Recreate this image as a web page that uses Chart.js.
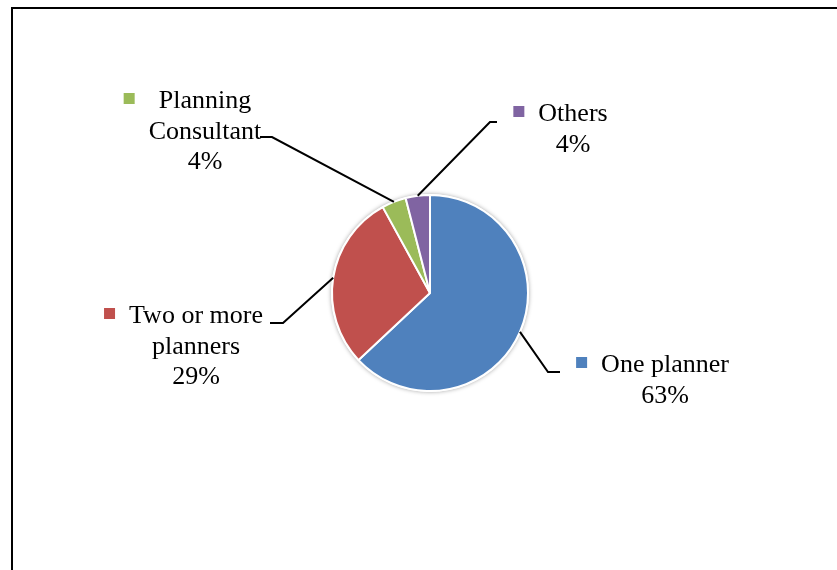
<!DOCTYPE html>
<html>
<head>
<meta charset="utf-8">
<script src="https://cdn.jsdelivr.net/npm/chart.js@4.4.1/dist/chart.umd.min.js"></script>
<style>
    html, body { margin: 0; padding: 0; background: #fff; overflow: hidden; }
    #wrap { position: relative; width: 837px; height: 570px; }
    #frame {
        position: absolute; left: 11px; top: 7px; width: 900px; height: 600px;
        border-left: 2px solid #000; border-top: 2px solid #000;
    }
    #grafico { position: absolute; left: 0; top: 0; }
</style>
</head>
<body>
<div id="wrap">
    <div id="frame"></div>
    <canvas id="grafico" width="837" height="570"></canvas>
</div>
<script>
const categorias = ['One planner', 'Two or more planners', 'Planning Consultant', 'Others'];
const valores = [63, 29, 4, 4];
const colores = ['#4F81BD', '#C0504D', '#9BBB59', '#8064A2'];

// how each category name wraps inside its label
const lineasEtiqueta = [
    ['One planner'],
    ['Two or more', 'planners'],
    ['Planning', 'Consultant'],
    ['Others']
];

// label placement, offsets from the pie centre (px)
// txt = text centre x / first baseline, codo = leader elbow, fin = leader end
const posEtiqueta = [
    { txt: [235, 79],   codo: [118, 79],   fin: [130, 79] },
    { txt: [-234, 30],  codo: [-147, 30],  fin: [-160, 30] },
    { txt: [-225, -185], codo: [-158, -156], fin: [-170, -156] },
    { txt: [143, -172], codo: [60, -171],  fin: [67, -171] }
];

const FUENTE = '26px "Liberation Serif", "Times New Roman", serif';
const INTERLINEA = 30.5;

// soft grey halo behind the pie
const sombraPie = {
    id: 'sombraPie',
    beforeDatasetsDraw(chart) {
        const arco = chart.getDatasetMeta(0).data[0];
        if (!arco) return;
        const { x, y, outerRadius } = arco.getProps(['x', 'y', 'outerRadius'], true);
        const ctx = chart.ctx;
        ctx.save();
        ctx.shadowColor = 'rgba(0,0,0,0.35)';
        ctx.shadowBlur = 4;
        ctx.fillStyle = '#fff';
        ctx.beginPath();
        ctx.arc(x, y, outerRadius + 1, 0, Math.PI * 2);
        ctx.fill();
        ctx.restore();
    }
};

// leader lines + legend-key style labels
const etiquetasPie = {
    id: 'etiquetasPie',
    afterDatasetsDraw(chart) {
        const ctx = chart.ctx;
        const meta = chart.getDatasetMeta(0);
        const total = valores.reduce((a, b) => a + b, 0);
        ctx.save();
        ctx.font = FUENTE;
        meta.data.forEach((arco, i) => {
            const p = arco.getProps(['x', 'y', 'startAngle', 'endAngle', 'outerRadius'], true);
            const medio = (p.startAngle + p.endAngle) / 2;
            const pos = posEtiqueta[i];
            const sx = p.x + Math.cos(medio) * p.outerRadius;
            const sy = p.y + Math.sin(medio) * p.outerRadius;

            ctx.strokeStyle = '#000';
            ctx.lineWidth = 2;
            ctx.beginPath();
            ctx.moveTo(sx, sy);
            ctx.lineTo(p.x + pos.codo[0], p.y + pos.codo[1]);
            ctx.lineTo(p.x + pos.fin[0], p.y + pos.fin[1]);
            ctx.stroke();

            const lineas = lineasEtiqueta[i].concat([Math.round(valores[i] / total * 100) + '%']);
            const cx = p.x + pos.txt[0];
            const by = p.y + pos.txt[1];
            ctx.fillStyle = '#000';
            ctx.textAlign = 'center';
            ctx.textBaseline = 'alphabetic';
            let ancho = 0;
            lineas.forEach((t, k) => {
                ancho = Math.max(ancho, ctx.measureText(t).width);
                ctx.fillText(t, cx, by + k * INTERLINEA);
            });

            // small colour key left of the text block
            ctx.fillStyle = colores[i];
            ctx.fillRect(cx - ancho / 2 - 25, by - 15, 11, 11);
        });
        ctx.restore();
    }
};

new Chart(document.getElementById('grafico'), {
    type: 'pie',
    data: {
        labels: categorias,
        datasets: [{
            data: valores,
            backgroundColor: colores,
            borderColor: '#fff',
            borderWidth: 2,
            hoverOffset: 0
        }]
    },
    options: {
        responsive: false,
        animation: false,
        events: [],
        layout: { padding: { top: 194, bottom: 178, left: 300, right: 277 } },
        plugins: {
            legend: { display: false },
            tooltip: { enabled: false }
        }
    },
    plugins: [sombraPie, etiquetasPie]
});
</script>
</body>
</html>
